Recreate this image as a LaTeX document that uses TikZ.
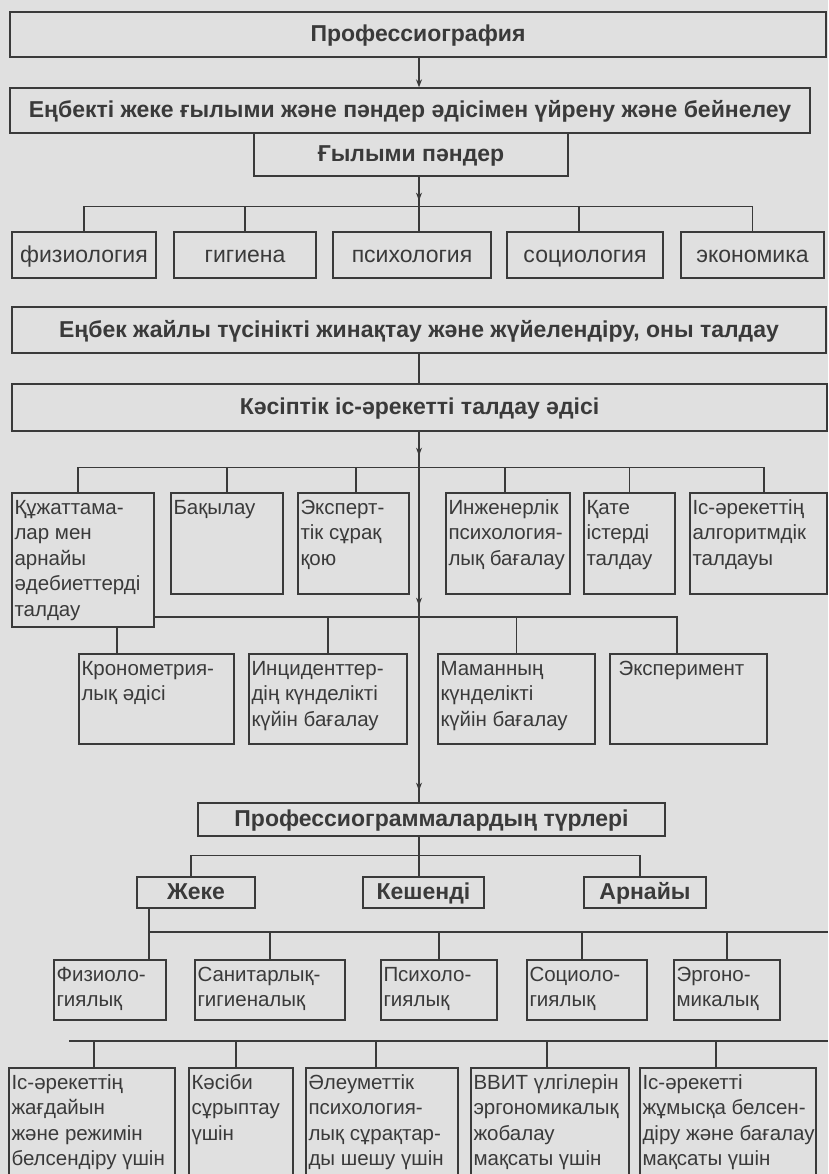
\documentclass[tikz,border=0pt]{standalone}
\usepackage{fontspec}
\setmainfont{Liberation Sans}
\usetikzlibrary{arrows.meta,decorations.markings}
\definecolor{paper}{HTML}{E0E0E0}
\definecolor{ink}{HTML}{3A3A3A}
\newcommand\txfont{\fontsize{20.5}{25.5}\selectfont}
\newcommand\rowfont{\fontsize{23}{26}\selectfont}
\newcommand\hdfont{\fontsize{23}{26}\selectfont\bfseries}
% text block inside a box: width, height, lines
\newcommand\cell[3]{\parbox[t][\dimexpr#2pt-7pt\relax][t]{\dimexpr#1pt-5pt\relax}{\raggedright\strut#3}}

\tikzset{
  box/.style={draw, line width=1.3pt, inner sep=0pt},
  hd/.style={box, font=\hdfont, text height=18pt, text depth=4pt},
  disc/.style={box, font=\rowfont, text height=18pt, text depth=4pt, minimum height=46pt},
  kind/.style={hd, minimum height=31pt},
  tx/.style={box, font=\txfont, inner xsep=2.5pt, inner ysep=3.5pt},
  link/.style={draw, line width=1.3pt},
  tipat/.style={postaction={decorate,decoration={markings,mark=at position #1 with {\arrow{Stealth[length=8pt,width=6pt]}}}}},
}

\begin{document}
\begin{tikzpicture}[x=1pt, y=-1pt, color=ink]
\useasboundingbox (0,0) rectangle (828,1174);
\clip (0,0) rectangle (828,1174);
\fill[paper] (0,0) rectangle (828,1174);

\coordinate (mid) at (419,0);
\coordinate (h7) at (0,617);
\coordinate (e9) at (828,932);
\coordinate (s10) at (69,1041);
\coordinate (e10) at (828,1041);

\node[hd, minimum width=816pt, minimum height=45pt] at (418,34.5) (prof) {Профессиография};
\node[hd, minimum width=800pt, minimum height=45pt] at (410,110.5) (study) {Еңбекті жеке ғылыми және пәндер әдісімен үйрену және бейнелеу};
\node[hd, minimum width=314pt, minimum height=43pt] at (411,154.5) (sci) {Ғылыми пәндер};
%
\node[disc, minimum width=144pt] at (84,255) (fiz) {физиология};
\node[disc, minimum width=142pt] at (245,255) (gig) {гигиена};
\node[disc, minimum width=158pt] at (412,255) (psy) {психология};
\node[disc, minimum width=156pt] at (585,255) (soc) {социология};
\node[disc, minimum width=143pt] at (752.5,255) (eko) {экономика};
%
\node[hd, minimum width=814pt, minimum height=46pt] at (419,330) (coll) {Еңбек жайлы түсінікті жинақтау және жүйелендіру, оны талдау};
\node[hd, minimum width=815pt, minimum height=47pt] at (419.5,407.5) (anal) {Кәсіптік іс-әрекетті талдау әдісі};
%
\node[tx] at (83,560) (docs) {\cell{142}{134}{Құжаттама-\\лар мен\\арнайы\\әдебиеттерді\\талдау}};
\node[tx] at (227,543.5) (obs) {\cell{112}{101}{Бақылау}};
\node[tx] at (353.5,543.5) (expq) {\cell{111}{101}{Эксперт-\\тік сұрақ\\қою}};
\node[tx] at (508,543.5) (eng) {\cell{124}{101}{Инженерлік\\психология-\\лық бағалау}};
\node[tx] at (629.5,543.5) (err) {\cell{91}{101}{Қате\\істерді\\талдау}};
\node[tx] at (758.5,543.5) (algo) {\cell{137}{101}{Іс-әрекеттің\\алгоритмдік\\талдауы}};
%
\node[tx] at (156.5,699) (chron) {\cell{155}{90}{Кронометрия-\\лық әдісі}};
\node[tx] at (328,699) (inc) {\cell{158}{90}{Инциденттер-\\дің күнделікті\\күйін бағалау}};
\node[tx] at (516.5,699) (diary) {\cell{157}{90}{Маманның\\күнделікті\\күйін бағалау}};
\node[tx] at (688.5,699) (exper) {\cell{157}{90}{\hspace*{6pt}Эксперимент}};
%
\node[hd, minimum width=467pt, minimum height=33pt] at (431.5,819.5) (types) {Профессиограммалардың түрлері};
\node[kind, minimum width=118pt] at (196,892.5) (indiv) {Жеке};
\node[kind, minimum width=121pt] at (423.5,892.5) (compl) {Кешенді};
\node[kind, minimum width=122pt] at (645,892.5) (spec) {Арнайы};
%
\node[tx] at (110,990) (physl) {\cell{112}{60}{Физиоло-\\гиялық}};
\node[tx] at (270,990) (sanit) {\cell{150}{60}{Санитарлық-\\гигиеналық}};
\node[tx] at (439,990) (psyl) {\cell{116}{60}{Психоло-\\гиялық}};
\node[tx] at (587,990) (socl) {\cell{120}{60}{Социоло-\\гиялық}};
\node[tx] at (727,990) (ergo) {\cell{106}{60}{Эргоно-\\микалық}};
%
\node[tx] at (92,1126.5) (act) {\cell{166}{117}{Іс-әрекеттің\\жағдайын\\және режимін\\белсендіру үшін}};
\node[tx] at (241,1126.5) (sel) {\cell{104}{117}{Кәсіби\\сұрыптау\\үшін}};
\node[tx] at (382,1126.5) (social) {\cell{152}{117}{Әлеуметтік\\психология-\\лық сұрақтар-\\ды шешу үшін}};
\node[tx] at (550,1126.5) (design) {\cell{158}{117}{ВВИТ үлгілерін\\эргономикалық\\жобалау\\мақсаты үшін}};
\node[tx] at (728,1126.5) (eval) {\cell{176}{117}{Іс-әрекетті\\жұмысқа белсен-\\\mbox{діру және бағалау}\\мақсаты үшін}};
%
% top part
\draw[link, -{Stealth[length=8pt,width=6pt]}] (prof.south -| mid) -- (mid |- study.north);
\draw[link, tipat=24pt] (sci.south -| mid) -- (mid |- psy.north);
\draw[link] (fiz.north) -- ++(0,-25) -| (eko.north);
\draw[link] (gig.north) -- ++(0,-25);
\draw[link] ([xshift=-6pt]soc.north) -- ++(0,-25);
\draw[link] (coll.south -| mid) -- (mid |- anal.north);
\draw[link, tipat=24pt, tipat=174pt, tipat=359pt] (anal.south -| mid) -- (mid |- types.north);
% methods
\draw[link] ([xshift=-5pt]docs.north) -- ++(0,-25) -| ([xshift=5.5pt]algo.north);
\draw[link] (obs.north) -- ++(0,-25);
\draw[link] ([xshift=2.5pt]expq.north) -- ++(0,-25);
\draw[link] ([xshift=-3pt]eng.north) -- ++(0,-25);
\draw[link] (err.north) -- ++(0,-25);
\draw[link] (docs.east |- h7) -| ([xshift=-11.5pt]exper.north);
\draw[link] (inc.north) -- ++(0,-37);
\draw[link] (diary.north) -- ++(0,-37);
\draw[link] ([xshift=34pt]docs.south) -- ([xshift=34pt]docs.south |- chron.north);
% kinds
\draw[link] (types.south -| mid) -- (mid |- compl.north);
\draw[link] ([xshift=-5pt]indiv.north) -- ++(0,-21) -| ([xshift=-5pt]spec.north);
\draw[link] ([xshift=-47pt]indiv.south) -- ([xshift=-47pt]indiv.south |- physl.north);
\draw[link] ([xshift=-47pt]indiv.south |- e9) -- (e9);
\draw[link] (sanit.north) -- ++(0,-28);
\draw[link] (psyl.north) -- ++(0,-28);
\draw[link] ([xshift=-5pt]socl.north) -- ++(0,-28);
\draw[link] (ergo.north) -- ++(0,-28);
% aims
\draw[link] (s10) -- (e10);
\draw[link] ([xshift=2pt]act.north) -- ++(0,-27);
\draw[link] ([xshift=-5pt]sel.north) -- ++(0,-27);
\draw[link] ([xshift=-6pt]social.north) -- ++(0,-27);
\draw[link] ([xshift=-3pt]design.north) -- ++(0,-27);
\draw[link] ([xshift=-12pt]eval.north) -- ++(0,-27);
\end{tikzpicture}
\end{document}
